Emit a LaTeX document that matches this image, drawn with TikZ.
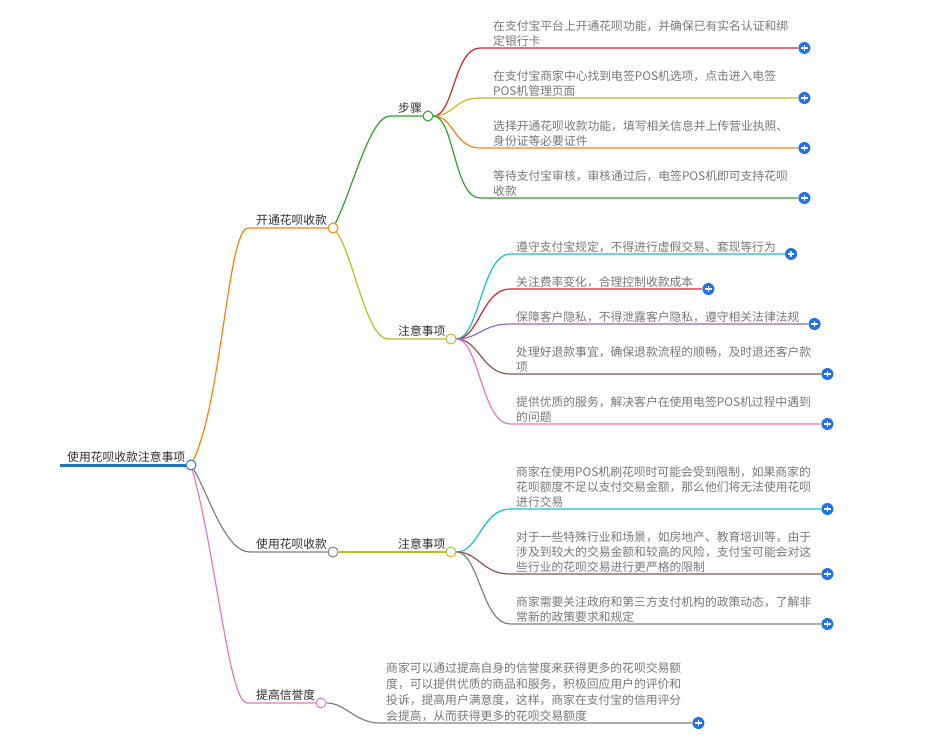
\documentclass[tikz,border=0pt]{standalone}
\usepackage{fontspec}
\setmainfont{Noto Sans CJK SC}
\usetikzlibrary{backgrounds,calc}
\definecolor{cblue}{RGB}{31,119,180}
\definecolor{corange}{RGB}{255,127,14}
\definecolor{cgreen}{RGB}{44,160,44}
\definecolor{cred}{RGB}{214,39,40}
\definecolor{cpurple}{RGB}{148,103,189}
\definecolor{cbrown}{RGB}{140,86,75}
\definecolor{cpink}{RGB}{227,119,194}
\definecolor{cgray}{RGB}{127,127,127}
\definecolor{colive}{RGB}{188,189,34}
\definecolor{ccyan}{RGB}{23,190,207}
\definecolor{plusblue}{RGB}{34,112,236}
\definecolor{labtext}{RGB}{45,45,45}
\definecolor{leaftext}{RGB}{118,118,118}

\begin{document}
\begin{tikzpicture}[x=1pt,y=-1pt,
 hub/.style={circle,draw,fill=white,line width=1pt,minimum size=10pt,inner sep=0pt},
 lab/.style={anchor=south west,inner xsep=0pt,inner ysep=2pt,text=labtext,font=\fontsize{11.8}{14}\selectfont},
 leaf/.style={anchor=south west,align=left,inner xsep=0pt,inner ysep=1.5pt,text=leaftext,font=\fontsize{11.8}{15}\selectfont},
 wrapleaf/.style={leaf,text width=296pt},
 plus/.style={circle,fill=plusblue,minimum size=12pt,inner sep=0pt,
  path picture={\draw[white,line width=1.4pt]
   ([xshift=-3.3pt]path picture bounding box.center)--([xshift=3.3pt]path picture bounding box.center)
   ([yshift=-3.3pt]path picture bounding box.center)--([yshift=3.3pt]path picture bounding box.center);}},
 edge/.style={line width=1.2pt}]
\useasboundingbox (0,0) rectangle (943,746);

% hubs and their labels
\node[hub,draw=cblue] (root) at (191,465) {};
\node[lab] (l0) at (67,465) {使用花呗收款注意事项};
\coordinate (rootin) at (60,465);
\node[hub,draw=corange] (k1) at (333,228) {};
\node[lab] (l1) at (256,228) {开通花呗收款};
\node[hub,draw=cgray] (k2) at (333,552) {};
\node[lab] (l2) at (256,552) {使用花呗收款};
\node[hub,draw=cpink] (k3) at (321,703) {};
\node[lab] (l3) at (256,703) {提高信誉度};
\node[hub,draw=cgreen] (s1) at (428,116) {};
\node[lab] (ls) at (398,116) {步骤};
\node[hub,draw=colive] (n1) at (451,339) {};
\node[lab] (ln1) at (398,339) {注意事项};
\node[hub,draw=colive] (n2) at (451,552) {};
\node[lab] (ln2) at (398,552) {注意事项};

% leaves of the steps
\node[wrapleaf] (a1) at (493,48) {在支付宝平台上开通花呗功能，并确保已有实名认证和绑\\定银行卡};
\node[plus] (pa1) at ([xshift=15pt]a1.south east) {};
\node[wrapleaf] (a2) at (493,98) {在支付宝商家中心找到电签POS机选项，点击进入电签\\POS机管理页面};
\node[plus] (pa2) at ([xshift=15pt]a2.south east) {};
\node[wrapleaf] (a3) at (493,148) {选择开通花呗收款功能，填写相关信息并上传营业执照、\\身份证等必要证件};
\node[plus] (pa3) at ([xshift=15pt]a3.south east) {};
\node[wrapleaf] (a4) at (493,198) {等待支付宝审核，审核通过后，电签POS机即可支持花呗\\收款};
\node[plus] (pa4) at ([xshift=15pt]a4.south east) {};

% leaves of the first notes
\node[leaf] (b1) at (516,254) {遵守支付宝规定，不得进行虚假交易、套现等行为};
\node[plus] (pb1) at ([xshift=15pt]b1.south east) {};
\node[leaf] (b2) at (516,289) {关注费率变化，合理控制收款成本};
\node[plus] (pb2) at ([xshift=15pt]b2.south east) {};
\node[leaf] (b3) at (516,324) {保障客户隐私，不得泄露客户隐私，遵守相关法律法规};
\node[plus] (pb3) at ([xshift=15pt]b3.south east) {};
\node[wrapleaf] (b4) at (516,374) {处理好退款事宜，确保退款流程的顺畅，及时退还客户款\\项};
\node[plus] (pb4) at ([xshift=15pt]b4.south east) {};
\node[wrapleaf] (b5) at (516,424) {提供优质的服务，解决客户在使用电签POS机过程中遇到\\的问题};
\node[plus] (pb5) at ([xshift=15pt]b5.south east) {};

% leaves of the second notes
\node[wrapleaf] (c1) at (516,509) {商家在使用POS机刷花呗时可能会受到限制，如果商家的\\花呗额度不足以支付交易金额，那么他们将无法使用花呗\\进行交易};
\node[plus] (pc1) at ([xshift=15pt]c1.south east) {};
\node[wrapleaf] (c2) at (516,574) {对于一些特殊行业和场景，如房地产、教育培训等，由于\\涉及到较大的交易金额和较高的风险，支付宝可能会对这\\些行业的花呗交易进行更严格的限制};
\node[plus] (pc2) at ([xshift=15pt]c2.south east) {};
\node[wrapleaf] (c3) at (516,624) {商家需要关注政府和第三方支付机构的政策动态，了解非\\常新的政策要求和规定};
\node[plus] (pc3) at ([xshift=15pt]c3.south east) {};

% credit leaf
\node[wrapleaf,font=\fontsize{11.8}{15.7}\selectfont] (d1) at (386,723) {商家可以通过提高自身的信誉度来获得更多的花呗交易额\\度，可以提供优质的商品和服务，积极回应用户的评价和\\投诉，提高用户满意度，这样，商家在支付宝的信用评分\\会提高，从而获得更多的花呗交易额度};
\node[plus] (pd1) at ([xshift=16pt]d1.south east) {};

\begin{scope}[on background layer]
\draw[cblue,line width=3pt] (rootin) -- (root);
\draw[edge,corange] (root) .. controls +(31,-65) and +(-20,0) .. ([xshift=-8pt]l1.south west) -- (k1);
\draw[edge,cgray] (root) .. controls +(18,30) and +(-25,0) .. ([xshift=-6pt]l2.south west) -- (k2);
\draw[edge,cpink] (root) .. controls +(25,90) and +(-18,0) .. ([xshift=-9pt]l3.south west) -- (k3);
\draw[edge,cgreen] (k1) .. controls +(20,-40) and +(-20,0) .. ([xshift=-8pt]ls.south west) -- (s1);
\draw[edge,colive] (k1) .. controls +(20,25) and +(-22,0) .. ([xshift=-10pt]ln1.south west) -- (n1);
\draw[edge,colive] (k2) -- (n2);
\draw[edge,cgray] (k3) .. controls +(25,0) and +(-25,0) .. ([xshift=-6pt]d1.south west) -- (pd1);
% step leaves
\draw[edge,cred] (s1) .. controls +(26,0) and +(-26,0) .. ([xshift=-13pt]a1.south west) -- (pa1);
\draw[edge,colive] (s1) .. controls +(26,0) and +(-26,0) .. ([xshift=-13pt]a2.south west) -- (pa2);
\draw[edge,corange] (s1) .. controls +(26,0) and +(-26,0) .. ([xshift=-13pt]a3.south west) -- (pa3);
\draw[edge,cgreen] (s1) .. controls +(26,0) and +(-26,0) .. ([xshift=-13pt]a4.south west) -- (pa4);
% note leaves
\draw[edge,ccyan] (n1) .. controls +(28,0) and +(-28,0) .. ([xshift=-6pt]b1.south west) -- (pb1);
\draw[edge,cred] (n1) .. controls +(28,0) and +(-28,0) .. ([xshift=-6pt]b2.south west) -- (pb2);
\draw[edge,cpurple] (n1) .. controls +(28,0) and +(-28,0) .. ([xshift=-6pt]b3.south west) -- (pb3);
\draw[edge,cbrown] (n1) .. controls +(28,0) and +(-28,0) .. ([xshift=-6pt]b4.south west) -- (pb4);
\draw[edge,cpink] (n1) .. controls +(28,0) and +(-28,0) .. ([xshift=-6pt]b5.south west) -- (pb5);
\draw[edge,ccyan] (n2) .. controls +(28,0) and +(-28,0) .. ([xshift=-6pt]c1.south west) -- (pc1);
\draw[edge,cbrown] (n2) .. controls +(28,0) and +(-28,0) .. ([xshift=-6pt]c2.south west) -- (pc2);
\draw[edge,cgray] (n2) .. controls +(28,0) and +(-28,0) .. ([xshift=-6pt]c3.south west) -- (pc3);
\end{scope}
\end{tikzpicture}
\end{document}
